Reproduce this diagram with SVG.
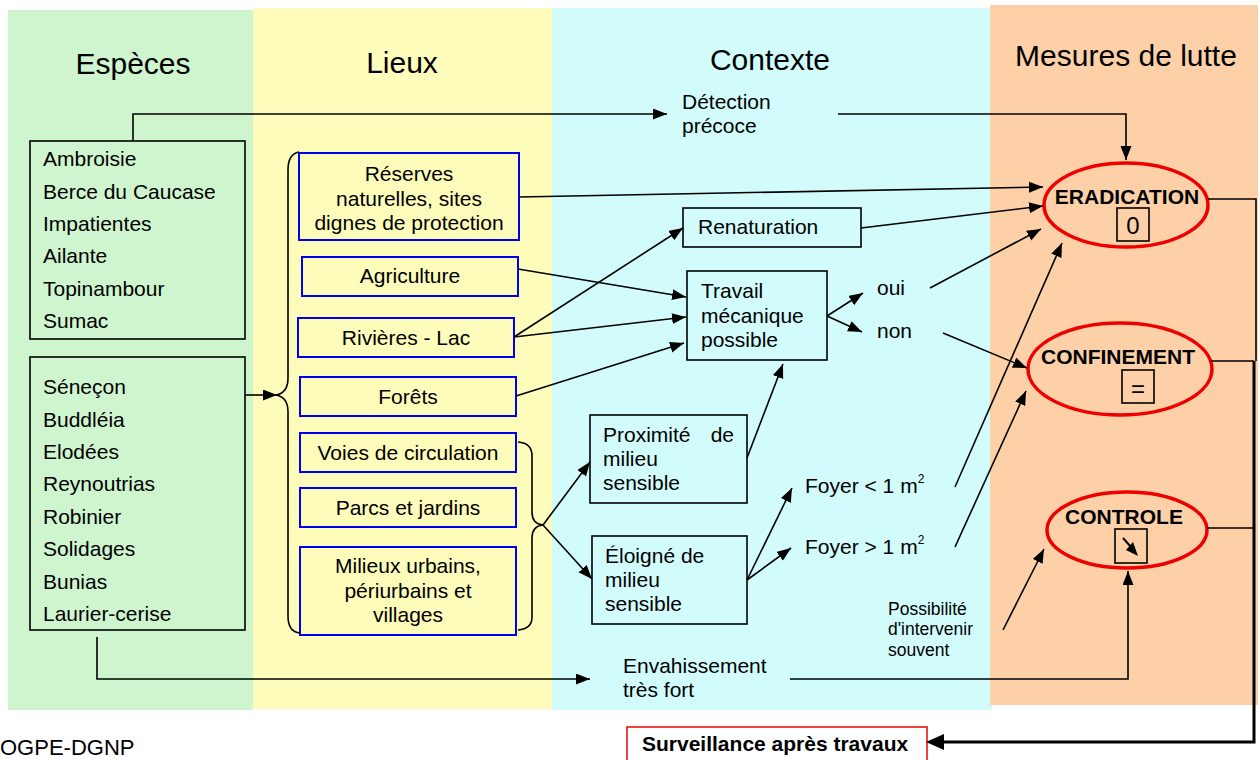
<svg xmlns="http://www.w3.org/2000/svg" width="1260" height="760" viewBox="0 0 1260 760">
<defs>
<marker id="ah" markerUnits="userSpaceOnUse" markerWidth="16" markerHeight="12" refX="14" refY="5.5" orient="auto">
<path d="M0,0 L14,5.5 L0,11 z" fill="#000"/>
</marker>
<style>
text{font-family:"Liberation Sans",Arial,sans-serif;fill:#000}
.t{font-size:21px}
.h{font-size:30px}
.s{font-size:17.5px}
.b{font-size:21px;font-weight:bold}
.m{text-anchor:middle}
.bx{fill:none;stroke:#000;stroke-width:1.6}
.bl{fill:none;stroke:#0000ee;stroke-width:2}
.el{fill:none;stroke:#ee0000;stroke-width:3.5}
.c{fill:none;stroke:#000;stroke-width:1.6}
.ca{fill:none;stroke:#000;stroke-width:1.6;marker-end:url(#ah)}
</style>
</defs>
<g id="background">
<rect x="8" y="10" width="245" height="700" fill="#cff5cf"/>
<rect x="253" y="8" width="299" height="701" fill="#fefcba"/>
<rect x="552" y="8" width="440" height="702" fill="#d2fcfc"/>
<rect x="990" y="5" width="268" height="700" fill="#fdd0a8"/>
</g>
<g id="titles">
<text class="h m" x="133" y="74">Espèces</text>
<text class="h m" x="402" y="73">Lieux</text>
<text class="h m" x="770" y="70">Contexte</text>
<text class="h m" x="1126" y="66">Mesures de lutte</text>
</g>
<g id="especes1">
<rect class="bx" x="30" y="141" width="215" height="198"/>
<text class="t" x="43" y="166">Ambroisie</text>
<text class="t" x="43" y="198.5">Berce du Caucase</text>
<text class="t" x="43" y="231">Impatientes</text>
<text class="t" x="43" y="263">Ailante</text>
<text class="t" x="43" y="296">Topinambour</text>
<text class="t" x="43" y="328">Sumac</text>
</g>
<g id="especes2">
<rect class="bx" x="30" y="357" width="215" height="273"/>
<text class="t" x="43" y="394">Séneçon</text>
<text class="t" x="43" y="427">Buddléia</text>
<text class="t" x="43" y="459">Elodées</text>
<text class="t" x="43" y="491">Reynoutrias</text>
<text class="t" x="43" y="524">Robinier</text>
<text class="t" x="43" y="556">Solidages</text>
<text class="t" x="43" y="589">Bunias</text>
<text class="t" x="43" y="621">Laurier-cerise</text>
</g>
<g id="reserves">
<rect class="bl" x="299" y="153" width="220" height="87"/>
<text class="t m" x="409" y="181">Réserves</text>
<text class="t m" x="409" y="206">naturelles, sites</text>
<text class="t m" x="409" y="230">dignes de protection</text>
</g>
<g id="agriculture">
<rect class="bl" x="302" y="257" width="216" height="39"/>
<text class="t m" x="410" y="283">Agriculture</text>
</g>
<g id="rivieres">
<rect class="bl" x="298" y="318" width="216" height="39"/>
<text class="t m" x="406" y="345">Rivières - Lac</text>
</g>
<g id="forets">
<rect class="bl" x="300" y="377" width="216" height="39"/>
<text class="t m" x="408" y="404">Forêts</text>
</g>
<g id="voies">
<rect class="bl" x="300" y="433" width="216" height="39"/>
<text class="t m" x="408" y="460">Voies de circulation</text>
</g>
<g id="parcs">
<rect class="bl" x="300" y="488" width="216" height="39"/>
<text class="t m" x="408" y="515">Parcs et jardins</text>
</g>
<g id="milieux">
<rect class="bl" x="300" y="547" width="216" height="88"/>
<text class="t m" x="408" y="573">Milieux urbains,</text>
<text class="t m" x="408" y="598">périurbains et</text>
<text class="t m" x="408" y="622">villages</text>
</g>
<g id="detection">
<text class="t" x="682" y="109">Détection</text>
<text class="t" x="682" y="133">précoce</text>
</g>
<g id="renaturation">
<rect class="bx" x="683" y="208" width="178" height="39"/>
<text class="t" x="698" y="234">Renaturation</text>
</g>
<g id="travail">
<rect class="bx" x="687" y="271" width="140" height="89"/>
<text class="t" x="701" y="298">Travail</text>
<text class="t" x="701" y="323">mécanique</text>
<text class="t" x="701" y="347">possible</text>
</g>
<g id="oui"><text class="t" x="877" y="295">oui</text></g>
<g id="non"><text class="t" x="877" y="338">non</text></g>
<g id="proximite">
<rect class="bx" x="590" y="415" width="157" height="88"/>
<text class="t" x="603" y="442">Proximité</text>
<text class="t" x="734" y="442" text-anchor="end">de</text>
<text class="t" x="603" y="466">milieu</text>
<text class="t" x="603" y="490">sensible</text>
</g>
<g id="eloigne">
<rect class="bx" x="592" y="536" width="155" height="88"/>
<text class="t" x="605" y="563">Éloigné de</text>
<text class="t" x="605" y="587">milieu</text>
<text class="t" x="605" y="611">sensible</text>
</g>
<g id="foyer1"><text class="t" x="805" y="493">Foyer &lt; 1 m<tspan font-size="12" dy="-10">2</tspan></text></g>
<g id="foyer2"><text class="t" x="805" y="554">Foyer &gt; 1 m<tspan font-size="12" dy="-10">2</tspan></text></g>
<g id="possibilite">
<text class="s" x="888" y="615">Possibilité</text>
<text class="s" x="888" y="635">d'intervenir</text>
<text class="s" x="888" y="656">souvent</text>
</g>
<g id="envahissement">
<text class="t" x="623" y="673">Envahissement</text>
<text class="t" x="623" y="697">très fort</text>
</g>
<g id="eradication">
<ellipse class="el" cx="1126" cy="205" rx="82" ry="42"/>
<text class="b m" x="1127" y="204">ERADICATION</text>
<rect class="bx" x="1117" y="208" width="32" height="33"/>
<text class="m" font-size="24" x="1133" y="234">0</text>
</g>
<g id="confinement">
<ellipse class="el" cx="1120" cy="369" rx="92" ry="46"/>
<text class="b m" x="1118" y="364">CONFINEMENT</text>
<rect class="bx" x="1122" y="370" width="32" height="33"/>
<text class="m" font-size="24" x="1138" y="397">=</text>
</g>
<g id="controle">
<ellipse class="el" cx="1127" cy="530" rx="80" ry="38"/>
<text class="b m" x="1124" y="524">CONTROLE</text>
<rect class="bx" x="1115" y="529" width="32" height="34"/>
<path d="M1123,538 L1131,547" stroke="#000" stroke-width="2" fill="none"/>
<path d="M1138,556 L1126,550 L1133,542 z" fill="#000"/>
</g>
<g id="surveillance">
<rect x="627" y="727" width="300" height="40" fill="#fff" stroke="#ee0000" stroke-width="1.5"/>
<text class="b" x="642" y="751">Surveillance après travaux</text>
</g>
<g id="ogpe"><text font-size="22" x="0" y="755">OGPE-DGNP</text></g>
<g id="connectors">
<path class="c" d="M299,152 Q288,154 288,170 L288,378 Q288,393 276,395 Q288,397 288,412 L288,616 Q288,632 300,633"/>
<path class="c" d="M518,442 Q532,443 532,456 L532,512 Q532,524 543,525 Q532,526 532,538 L532,617 Q532,629 518,630"/>
<path class="ca" d="M133,141 V114 H667"/>
<path class="ca" d="M838,114 H1126 V160"/>
<path class="ca" d="M519,197 L1043,187"/>
<path class="ca" d="M861,228 L1043,206"/>
<path class="ca" d="M930,288 L1041,229"/>
<path class="ca" d="M955,487 L1062,243"/>
<path class="ca" d="M943,333 L1027,368"/>
<path class="ca" d="M955,547 L1026,391"/>
<path class="ca" d="M1003,630 L1044,549"/>
<path class="ca" d="M790,679 H1128 V571"/>
<path class="ca" d="M97,637 V679 H590"/>
<path class="ca" d="M518,269 L686,297"/>
<path class="ca" d="M514,337 L686,317"/>
<path class="ca" d="M516,396 L684,343"/>
<path class="ca" d="M514,337 L683,228"/>
<path class="ca" d="M827,316 L863,293"/>
<path class="ca" d="M827,316 L862,332"/>
<path class="ca" d="M747,458 L783,364"/>
<path class="ca" d="M747,580 L792,488"/>
<path class="ca" d="M747,580 L791,548"/>
<path class="ca" d="M543,525 L590,462"/>
<path class="ca" d="M543,525 L592,579"/>
<path class="ca" d="M245,395 L277,395"/>
<path class="c" d="M1208,199 H1256 V361"/>
<path class="c" d="M1211,361 H1254"/>
<path class="c" d="M1207,528 H1254"/>
<path fill="none" stroke="#000" stroke-width="3" d="M1254,361 V742 H940"/>
<path d="M926,742 L944,734 L944,750 z" fill="#000"/>
</g>
</svg>
